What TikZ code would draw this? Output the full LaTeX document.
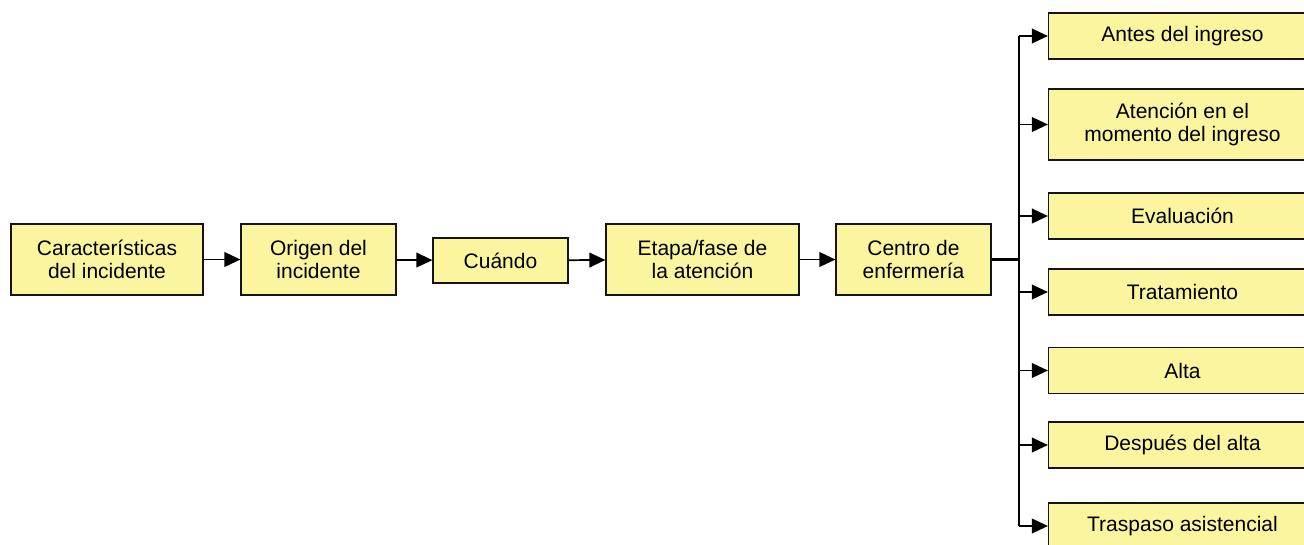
\documentclass[tikz,border=0pt]{standalone}
\usepackage{fontspec}
\setmainfont{Liberation Sans}
\usepackage{tikz}
\usetikzlibrary{arrows.meta, positioning}
\definecolor{cajaamarilla}{RGB}{250,245,158}
\definecolor{bordecaja}{RGB}{20,20,20}

\begin{document}
\begin{tikzpicture}[x=0.75pt, y=-0.75pt,
					caja/.style={draw=bordecaja, line width=0.9pt, fill=cajaamarilla, align=center, inner sep=2pt,
						minimum height=53.25pt, font=\fontsize{15.75pt}{17.5pt}\selectfont},
					cajader/.style={caja, minimum width=201pt, minimum height=34.5pt},
					flecha/.style={line width=1.3pt, -{Triangle[length=12pt, width=11pt]}},
					tronco/.style={line width=1.8pt}]
					%Bildbereich
					\useasboundingbox (0,0) rectangle (1304,544);
					\clip (0,0) rectangle (1304,544);
					% Kette links
					\node[caja, minimum width=144pt] (caracteristicas) at (107,259.5) {Características\\del incidente};
					\node[caja, minimum width=116.25pt] (origen) at (318.5,259.5) {Origen del\\incidente};
					\node[caja, minimum width=101.25pt, minimum height=33.75pt] (cuando) at (500.5,260.5) {Cuándo};
					\node[caja, minimum width=144.75pt] (etapa) at (702.5,259.5) {Etapa/fase de\\la atención};
					\node[caja, minimum width=116.25pt] (centro) at (913.5,259.5) {Centro de\\enfermería};
					\draw[flecha] (caracteristicas) -- (origen);
					\draw[flecha] (origen) -- (cuando);
					\draw[flecha] (cuando) -- (etapa);
					\draw[flecha] (etapa) -- (centro);
					% Kästen rechts
					\node[cajader] (antes) at (1182.5,36) {Antes del ingreso};
					\node[cajader, minimum height=53.25pt] (atencion) at (1182.5,124.5) {Atención en el\\momento del ingreso};
					\node[cajader] (evaluacion) at (1182.5,216) {Evaluación};
					\node[cajader] (tratamiento) at (1182.5,292) {Tratamiento};
					\node[cajader] (alta) at (1182.5,370.5) {Alta};
					\node[cajader] (despues) at (1182.5,445) {Después del alta};
					\node[cajader] (traspaso) at (1182.5,526) {Traspaso asistencial};
					% Verzweigung
					\coordinate (nudo) at (1019,259.5);
					\draw[tronco] (centro) -- (nudo);
					\draw[tronco] (nudo |- antes.west) -- (nudo |- traspaso.west);
					\foreach \n in {antes,atencion,evaluacion,tratamiento,alta,despues,traspaso}
						\draw[flecha] (nudo |- \n.west) -- (\n.west);
				\end{tikzpicture}
\end{document}
